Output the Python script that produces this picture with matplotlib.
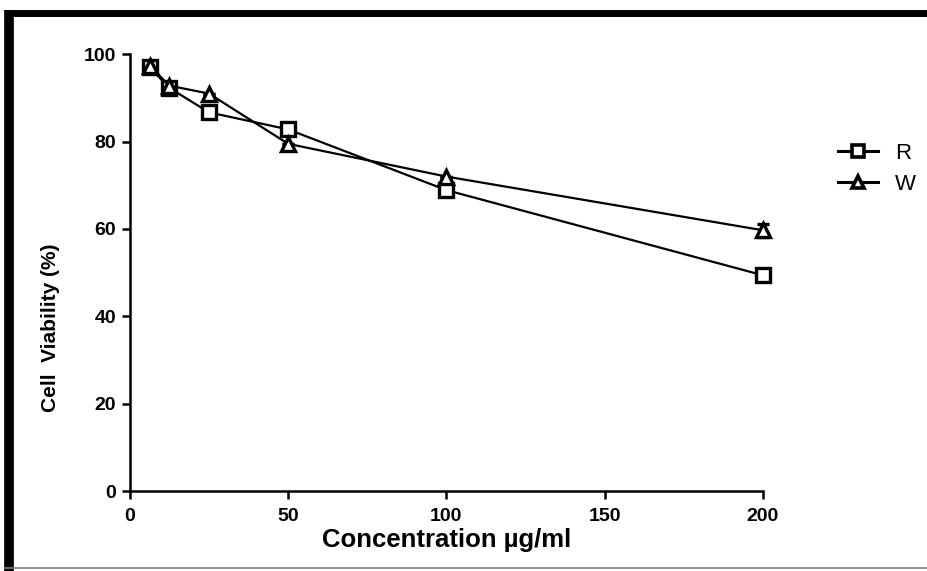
import matplotlib.pyplot as plt
from matplotlib.lines import Line2D

plt.rcParams['font.family'] = ['Liberation Sans', 'DejaVu Sans']

conc = [6.25, 12.5, 25, 50, 100, 200]
r_vals = [97.0, 92.3, 86.7, 82.8, 68.9, 49.4]
r_err = [0, 0, 0, 0, 0, 0.8]
w_vals = [97.4, 92.8, 91.0, 79.5, 72.0, 59.7]
w_err = [0, 0, 0, 0, 0, 1.5]

xticks = [0, 50, 100, 150, 200]
yticks = [0, 20, 40, 60, 80, 100]

fig = plt.figure(figsize=(9.27, 5.71), dpi=100)
ax = fig.add_axes([0.140, 0.140, 0.683, 0.765])

style = dict(color='black', lw=1.6, markersize=10, markeredgewidth=2.4,
             markerfacecolor='white', markeredgecolor='black',
             capsize=4, elinewidth=1.6, capthick=1.6, clip_on=False)
ax.errorbar(conc, r_vals, yerr=r_err, marker='s', label='R', zorder=3, **style)
ax.errorbar(conc, w_vals, yerr=w_err, marker='^', label='W', zorder=3, **style)

ax.set_xlim(0, 200)
ax.set_ylim(0, 100)
ax.set_xticks(xticks)
ax.set_yticks(yticks)
for s in ['top', 'right']:
    ax.spines[s].set_visible(False)
for s in ['left', 'bottom']:
    ax.spines[s].set_linewidth(1.8)
ax.tick_params(direction='out', length=6, width=1.8, labelsize=14, pad=4)
ax.tick_params(axis='x', pad=6)
for lab in ax.get_xticklabels() + ax.get_yticklabels():
    lab.set_fontweight('bold')

ax.set_xlabel('Concentration µg/ml', fontsize=18.5, fontweight='bold', labelpad=2)
ax.set_ylabel('Cell  Viability (%)', fontsize=15, fontweight='bold')
ax.yaxis.set_label_coords(-0.111, 0.375)

handles = [Line2D([], [], color='black', lw=2.2, marker='s', markersize=8,
                  markeredgewidth=2.6, markerfacecolor='white'),
           Line2D([], [], color='black', lw=2.2, marker='^', markersize=8,
                  markeredgewidth=2.6, markerfacecolor='white')]
fig.legend(handles, ['R', 'W'], loc='upper left', bbox_to_anchor=(0.882, 0.785),
           frameon=False, fontsize=16, handlelength=1.8, labelspacing=0.45,
           handletextpad=0.8)

# outer frame of the screenshot
fig.add_artist(Line2D([0.005, 1.0], [0.977, 0.977], color='black', lw=5,
                      transform=fig.transFigure, solid_capstyle='butt'))
fig.add_artist(Line2D([0.010, 0.010], [0.0, 0.982], color='black', lw=7,
                      transform=fig.transFigure, solid_capstyle='butt'))
fig.add_artist(Line2D([0.005, 1.0], [0.006, 0.006], color='gray', lw=1.2,
                      transform=fig.transFigure))

fig.savefig('out.png', dpi=100)
